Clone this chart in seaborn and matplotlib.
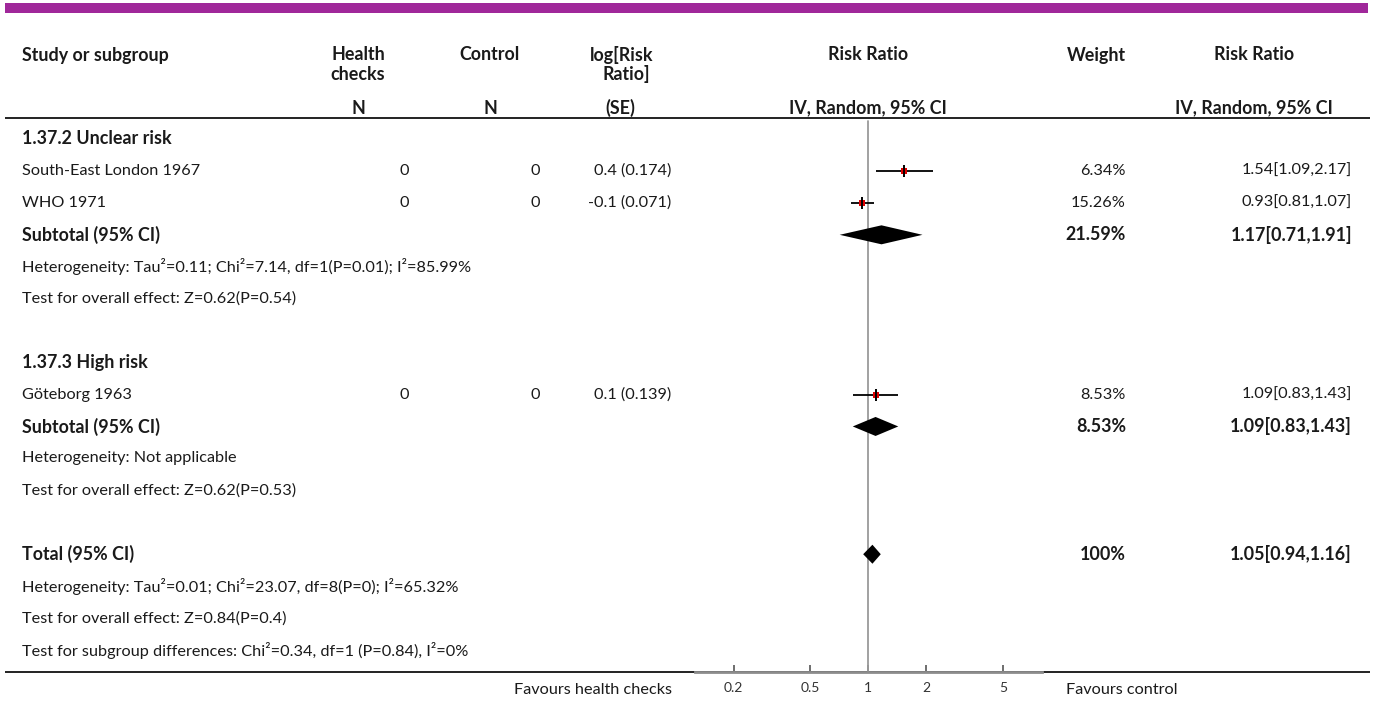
import numpy as np
import pandas as pd
import matplotlib
matplotlib.use("Agg")
import matplotlib.pyplot as plt
import seaborn as sns

# ---------------- data ----------------
study_names = ["South-East London 1967", "WHO 1971", "Göteborg 1963"]
study_rows = [1, 2, 8]
hc_n = ["0", "0", "0"]
ctrl_n = ["0", "0", "0"]
log_rr_se = ["0.4 (0.174)", "-0.1 (0.071)", "0.1 (0.139)"]
study_rr = [1.54, 0.93, 1.09]
study_lo = [1.09, 0.81, 0.83]
study_hi = [2.17, 1.07, 1.43]
study_weight = ["6.34%", "15.26%", "8.53%"]
study_ci_text = ["1.54[1.09,2.17]", "0.93[0.81,1.07]", "1.09[0.83,1.43]"]

pooled_labels = ["Subtotal (95% CI)", "Subtotal (95% CI)", "Total (95% CI)"]
pooled_rows = [3, 9, 13]
pooled_rr = [1.17, 1.09, 1.05]
pooled_lo = [0.71, 0.83, 0.94]
pooled_hi = [1.91, 1.43, 1.16]
pooled_weight = ["21.59%", "8.53%", "100%"]
pooled_ci_text = ["1.17[0.71,1.91]", "1.09[0.83,1.43]", "1.05[0.94,1.16]"]

group_labels = ["1.37.2 Unclear risk", "1.37.3 High risk"]
group_rows = [0, 7]

note_rows = [4, 5, 10, 11, 14, 15, 16]
note_texts = [
    "Heterogeneity: Tau²=0.11; Chi²=7.14, df=1(P=0.01); I²=85.99%",
    "Test for overall effect: Z=0.62(P=0.54)",
    "Heterogeneity: Not applicable",
    "Test for overall effect: Z=0.62(P=0.53)",
    "Heterogeneity: Tau²=0.01; Chi²=23.07, df=8(P=0); I²=65.32%",
    "Test for overall effect: Z=0.84(P=0.4)",
    "Test for subgroup differences: Chi²=0.34, df=1 (P=0.84), I²=0%",
]

tick_values = [0.2, 0.5, 1, 2, 5]
tick_labels = ["0.2", "0.5", "1", "2", "5"]
left_favours = "Favours health checks"
right_favours = "Favours control"

# ---------------- style ----------------
sns.set_theme(style="white")
plt.rcParams["font.family"] = ["Lato", "DejaVu Sans"]
FS = 11.7
FSB = 12.9
TXT = "#1a1a1a"

W, H = 1375, 702
fig = plt.figure(figsize=(W / 100, H / 100), dpi=100)

# pixel-coordinate text layer
axt = fig.add_axes([0, 0, 1, 1])
axt.set_xlim(0, W)
axt.set_ylim(H, 0)
axt.axis("off")

ROW0, DY = 139, 31.94


def ry(r):
    return ROW0 + DY * r


# top purple band
axt.add_patch(plt.Rectangle((5, 3), 1363, 10, color="#A0289A", lw=0))

# header
hb = dict(fontsize=FSB, fontweight="bold", color=TXT, va="center")
axt.text(22, 55, "Study or subgroup", ha="left", **hb)
axt.text(358, 55, "Health", ha="center", **hb)
axt.text(358, 74, "checks", ha="center", **hb)
axt.text(358, 108, "N", ha="center", **hb)
axt.text(490, 55, "Control", ha="center", **hb)
axt.text(490, 108, "N", ha="center", **hb)
axt.text(622, 55, "log[Risk", ha="center", **hb)
axt.text(626, 74, "Ratio]", ha="center", **hb)
axt.text(620, 108, "(SE)", ha="center", **hb)
axt.text(868, 55, "Risk Ratio", ha="center", **hb)
axt.text(868, 108, "IV, Random, 95% CI", ha="center", **hb)
axt.text(1096, 55, "Weight", ha="center", **hb)
axt.text(1254, 55, "Risk Ratio", ha="center", **hb)
axt.text(1254, 108, "IV, Random, 95% CI", ha="center", **hb)
axt.plot([5, 1370], [118, 118], color="#222222", lw=1.4, solid_capstyle="butt")

nb = dict(fontsize=FS, color=TXT, va="center")
bb = dict(fontsize=FSB, color=TXT, va="center", fontweight="bold")
# group headers
for r, t in zip(group_rows, group_labels):
    axt.text(22, ry(r), t, ha="left", **bb)
# studies
for i, r in enumerate(study_rows):
    y = ry(r)
    axt.text(22, y, study_names[i], ha="left", **nb)
    axt.text(409, y, hc_n[i], ha="right", **nb)
    axt.text(540, y, ctrl_n[i], ha="right", **nb)
    axt.text(671, y, log_rr_se[i], ha="right", **nb)
    axt.text(1126, y, study_weight[i], ha="right", **nb)
    axt.text(1352, y, study_ci_text[i], ha="right", **nb)
# pooled
for i, r in enumerate(pooled_rows):
    y = ry(r)
    axt.text(22, y, pooled_labels[i], ha="left", **bb)
    axt.text(1126, y, pooled_weight[i], ha="right", **bb)
    axt.text(1352, y, pooled_ci_text[i], ha="right", **bb)
# notes
for r, t in zip(note_rows, note_texts):
    axt.text(22, ry(r), t, ha="left", **nb)

# bottom rule + favours labels
axt.plot([5, 1370], [672, 672], color="#222222", lw=1.4, solid_capstyle="butt")
axt.text(672, 690, left_favours, ha="right", **nb)
axt.text(1066, 690, right_favours, ha="left", **nb)

# ---------------- forest axes ----------------
X0, X1 = 695, 1041.7
Y0, Y1 = 118, 672
YB, YT = (Y1 - ROW0) / DY, (Y0 - ROW0) / DY
axf = fig.add_axes([X0 / W, (H - Y1) / H, (X1 - X0) / W, (Y1 - Y0) / H])
axf.patch.set_alpha(0)
axf.set_xscale("log")

# CI lines
axf.hlines(study_rows, study_lo, study_hi, color="black", lw=1.3, zorder=2)
df = pd.DataFrame({"rr": study_rr, "row": study_rows})
sns.scatterplot(data=df, x="rr", y="row", marker="s", color="#e00000", s=22,
                linewidth=0, ax=axf, zorder=3, legend=False)
sns.scatterplot(data=df, x="rr", y="row", marker="|", color="black", s=70,
                linewidth=1.4, ax=axf, zorder=4, legend=False)
axf.set_xlabel("")
axf.set_ylabel("")

# diamonds
HH = 9.5 / DY
for r, m, lo, hi in zip(pooled_rows, pooled_rr, pooled_lo, pooled_hi):
    axf.fill([lo, m, hi, m], [r, r - HH, r, r + HH], color="black", lw=0, zorder=3)

# line of no effect (starts just below header rule)
axf.plot([1, 1], [YB, YT + 3 / DY], color="#9a9a9a", lw=1.3, zorder=1)

axf.set_xlim(10 ** -0.9, 10 ** 0.9)
axf.set_ylim(YB, YT)
for s in ["top", "left", "right"]:
    axf.spines[s].set_visible(False)
axf.spines["bottom"].set_color("#8c8c8c")
axf.spines["bottom"].set_linewidth(2.0)
axf.set_yticks([])
axf.set_xticks(tick_values)
axf.set_xticklabels(tick_labels)
axf.xaxis.set_minor_locator(matplotlib.ticker.NullLocator())
axf.tick_params(axis="x", direction="in", length=5, width=1.2, color="#555555",
                labelsize=10, labelcolor="#333333", pad=7, bottom=True)

fig.savefig("out.png", dpi=100)
